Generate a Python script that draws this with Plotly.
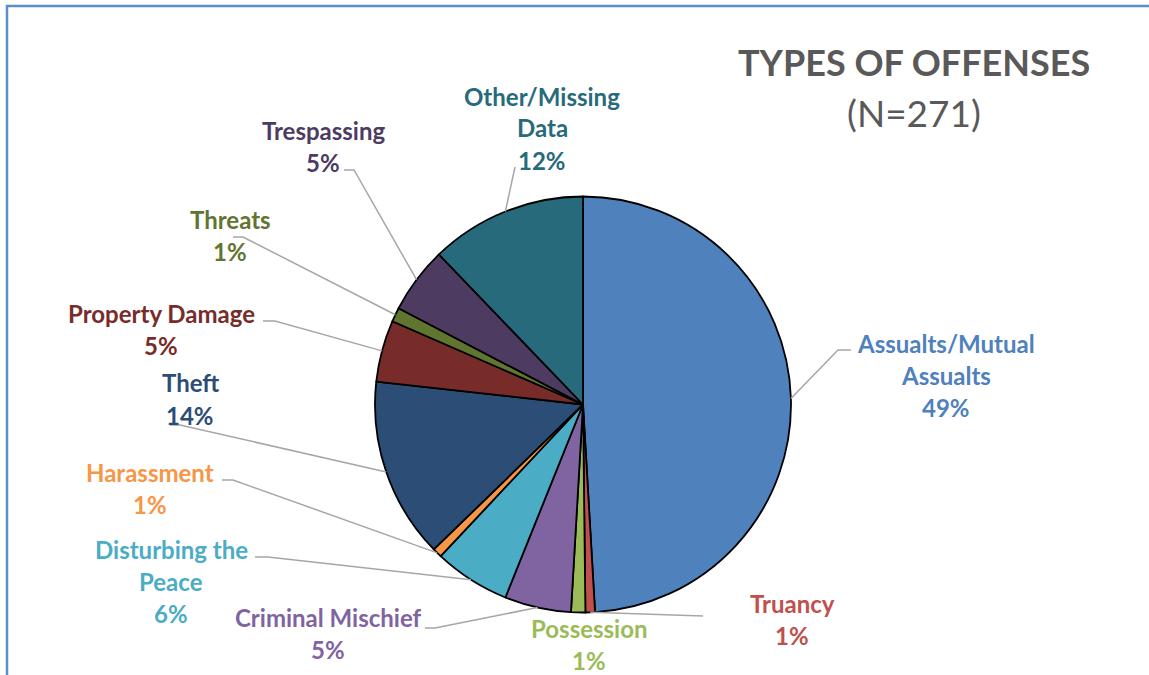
import math
import plotly.graph_objects as go

W, H = 1149, 675

# ---- data ----
categories = ["Assualts/Mutual Assualts", "Truancy", "Possession", "Criminal Mischief",
              "Disturbing the Peace", "Harassment", "Theft", "Property Damage",
              "Threats", "Trespassing", "Other/Missing Data"]
counts = [133, 2, 3, 14, 16, 2, 38, 13, 3, 14, 33]
label_lines = [["Assualts/Mutual", "Assualts"], ["Truancy"], ["Possession"], ["Criminal Mischief"],
               ["Disturbing the", "Peace"], ["Harassment"], ["Theft"], ["Property Damage"],
               ["Threats"], ["Trespassing"], ["Other/Missing", "Data"]]
colors = ["#4F81BD", "#C0504D", "#9BBB59", "#8064A2", "#4BACC6", "#F79646",
          "#2C4D75", "#772C2A", "#5F7530", "#4D3B62", "#276A7C"]
title_text = "TYPES OF OFFENSES"
subtitle_text = "(N=271)"

# ---- layout helpers (pixel -> paper) ----
def px(x):
    return x / W

def py(y):
    return 1 - y / H

CX, CY, R = 583, 404.5, 208

# label anchor (center x, first line y) in pixels
label_pos = [(946, 343), (792, 603), (589, 628), (328, 617), (171, 549), (150, 472),
             (190, 383), (161, 313), (230, 219), (323, 130), (542, 96)]
# leader line bends/ends (pixels); None -> no leader line
leader_pts = [[(838, 350), (851, 350)], [(703, 616)], None, [(435, 628), (425, 628)],
              [(268, 557), (255, 557)], [(233, 480), (222, 480)], [(180, 425), (170, 425)],
              [(275, 321), (263, 321)], [(243, 237), (233, 237)], [(354, 170), (344, 170)],
              [(515, 167)]]
LINE_GAP = 32

fig = go.Figure(go.Pie(
    labels=categories, values=counts, sort=False, direction="clockwise", rotation=0,
    marker=dict(colors=colors, line=dict(color="#000000", width=1.8)),
    textinfo="none", hoverinfo="label+value+percent", showlegend=False,
    domain=dict(x=[px(CX - R), px(CX + R)], y=[py(CY + R), py(CY - R)]),
))

total = sum(counts)
annotations = []
shapes = []
cum = 0
for i, v in enumerate(counts):
    mid = (cum + v / 2) / total * 2 * math.pi
    cum += v
    ex, ey = CX + R * math.sin(mid), CY - R * math.cos(mid)
    pct = f"{round(v / total * 100)}%"
    lines = label_lines[i] + [pct]
    lx, ly = label_pos[i]
    for j, t in enumerate(lines):
        annotations.append(dict(
            x=px(lx), y=py(ly + j * LINE_GAP), xref="paper", yref="paper",
            text=f"<b>{t}</b>", showarrow=False, xanchor="center", yanchor="middle",
            font=dict(family="Lato", size=24, color=colors[i])))
    if leader_pts[i]:
        pts = [(ex, ey)] + leader_pts[i]
        path = "M " + " L ".join(f"{px(a):.5f},{py(b):.5f}" for a, b in pts)
        shapes.append(dict(type="path", path=path, xref="paper", yref="paper",
                           line=dict(color="#A6A6A6", width=1.5)))

annotations.append(dict(x=px(914), y=py(62), xref="paper", yref="paper",
                        text=f"<b>{title_text}</b>", showarrow=False, xanchor="center",
                        yanchor="middle", font=dict(family="Lato", size=36, color="#595959")))
annotations.append(dict(x=px(914), y=py(112), xref="paper", yref="paper",
                        text=subtitle_text, showarrow=False, xanchor="center",
                        yanchor="middle", font=dict(family="Lato", size=37, color="#595959")))

shapes.append(dict(type="rect", xref="paper", yref="paper",
                   x0=px(7), x1=1.05, y0=-0.05, y1=py(6),
                   line=dict(color="#5F8DCB", width=2.5)))

fig.update_layout(width=W, height=H, margin=dict(l=0, r=0, t=0, b=0),
                  paper_bgcolor="white", plot_bgcolor="white",
                  annotations=annotations, shapes=shapes)

fig.write_html("out.html", config={"displayModeBar": False},
               post_script="document.body.style.margin='0';document.body.style.overflow='hidden';")
